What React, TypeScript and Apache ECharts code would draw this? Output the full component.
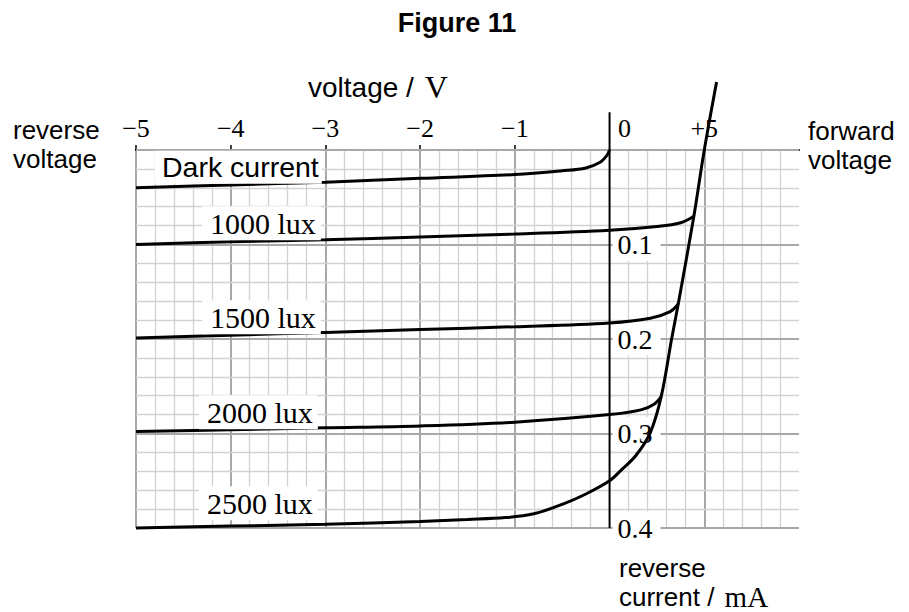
import React, { useEffect, useRef } from 'react';
import * as echarts from 'echarts';

// ---- data (voltage in V, reverse current in mA) ----
const darkV = [-5, -4, -3, -2, -1, -0.5, -0.25, -0.1, -0.03, 0];
const darkI = [0.040, 0.037, 0.034, 0.030, 0.026, 0.022, 0.019, 0.013, 0.006, 0];

const lux1000V = [-5, -4, -3, -2, -1, 0, 0.5, 0.75, 0.89];
const lux1000I = [0.100, 0.097, 0.095, 0.092, 0.089, 0.085, 0.081, 0.077, 0.070];

const lux1500V = [-5, -4, -3, -2, -1, 0, 0.43, 0.64, 0.725];
const lux1500I = [0.199, 0.196, 0.193, 0.190, 0.187, 0.183, 0.178, 0.171, 0.163];

const lux2000V = [-5, -4, -3, -2, -1, 0, 0.33, 0.47, 0.545];
const lux2000I = [0.298, 0.296, 0.294, 0.292, 0.288, 0.280, 0.275, 0.269, 0.261];

const lux2500V = [-5, -4, -3, -2, -1.5, -1.1, -0.8, -0.5, -0.25, 0, 0.12, 0.28, 0.43, 0.545, 0.655, 0.725, 0.89, 1.0, 1.13];
const lux2500I = [0.400, 0.398, 0.396, 0.393, 0.391, 0.389, 0.385, 0.375, 0.364, 0.350, 0.339, 0.323, 0.299, 0.261, 0.200, 0.163, 0.070, 0.0, -0.072];

const zeroLineV = [0, 0];
const zeroLineI = [-0.04, 0.4];

const xMin = -5;
const xMax = 2;
const xLabelValues = [-5, -4, -3, -2, -1, 0, 1];
const xLabelTexts = ['\u22125', '\u22124', '\u22123', '\u22122', '\u22121', '0', '+5'];
const xTickValues = [-5, -4, -3, -2, -1, 1];
const yLabelValues = [0.1, 0.2, 0.3, 0.4];
const yLabelTexts = ['0.1', '0.2', '0.3', '0.4'];

const SANS = 'Liberation Sans, Arial, sans-serif';
const SERIF = 'Liberation Serif, Times New Roman, serif';

const GRID_LEFT = 136;
const GRID_WIDTH = 663;

const pairs = (v: number[], i: number[]) => v.map((x, k) => [x, i[k]]);

const curve = (name: string, v: number[], i: number[]) => ({
  type: 'line',
  name,
  data: pairs(v, i),
  symbol: 'none',
  showSymbol: false,
  smooth: 0.35,
  clip: false,
  lineStyle: { color: '#000', width: 3 },
  z: 3,
});

const luxText = (text: string, x: number, y: number) => ({
  type: 'text',
  x,
  y,
  z: 10,
  style: {
    text,
    fontFamily: SERIF,
    fontSize: 30,
    fill: '#000',
    align: 'left',
    verticalAlign: 'middle',
    backgroundColor: '#fff',
    padding: [2, 5, 2, 8],
  },
});

export default function App() {
  const ref = useRef<HTMLDivElement>(null);

  useEffect(() => {
    if (!ref.current) return;
    const chart = echarts.init(ref.current, undefined, { renderer: 'svg' });
    const yAxisOffset = -GRID_WIDTH * (0 - xMin) / (xMax - xMin);
    const option: any = {
      animation: false,
      backgroundColor: '#fff',
      grid: { left: GRID_LEFT, width: GRID_WIDTH, top: 150, bottom: 84, containLabel: false, outerBoundsMode: 'none' },
      xAxis: {
        type: 'value',
        position: 'top',
        min: xMin,
        max: xMax,
        interval: 1,
        axisLine: { show: true, onZero: false, lineStyle: { color: '#000', width: 2 } },
        axisTick: { show: true, inside: false, length: 5, customValues: xTickValues, lineStyle: { color: '#000', width: 1.5 } },
        axisLabel: {
          customValues: xLabelValues,
          margin: 9,
          fontFamily: SERIF,
          fontSize: 26,
          color: '#000',
          formatter: (val: number) => {
            const k = xLabelValues.findIndex((x) => Math.abs(x - val) < 1e-9);
            const t = k >= 0 ? xLabelTexts[k] : '';
            return val === 0 ? '{z|' + t + '}' : t;
          },
          rich: { z: { fontFamily: SERIF, fontSize: 26, color: '#000', padding: [0, 0, 0, 30] } },
        },
        splitLine: { show: true, lineStyle: { color: '#a8a8a8', width: 2 } },
        minorTick: { show: false, splitNumber: 5 },
        minorSplitLine: { show: true, lineStyle: { color: '#d2d2d2', width: 1.3 } },
      },
      yAxis: {
        type: 'value',
        position: 'left',
        offset: yAxisOffset,
        inverse: true,
        min: 0,
        max: 0.4,
        interval: 0.1,
        z: 1,
        axisLine: { show: false },
        axisTick: { show: false },
        axisLabel: {
          customValues: yLabelValues,
          inside: true,
          margin: 3,
          fontFamily: SERIF,
          fontSize: 28,
          color: '#000',
          backgroundColor: '#fff',
          padding: [5, 8, 0, 5],
          formatter: (val: number) => {
            const k = yLabelValues.findIndex((x) => Math.abs(x - val) < 1e-9);
            return k >= 0 ? yLabelTexts[k] : '';
          },
        },
        splitLine: { show: true, lineStyle: { color: '#a8a8a8', width: 2 } },
        minorTick: { show: false, splitNumber: 5 },
        minorSplitLine: { show: true, lineStyle: { color: '#d2d2d2', width: 1.3 } },
      },
      series: [
        {
          type: 'line',
          name: 'zero',
          data: pairs(zeroLineV, zeroLineI),
          symbol: 'none',
          clip: false,
          lineStyle: { color: '#000', width: 2 },
          z: 2,
        },
        curve('Dark current', darkV, darkI),
        curve('1000 lux', lux1000V, lux1000I),
        curve('1500 lux', lux1500V, lux1500I),
        curve('2000 lux', lux2000V, lux2000I),
        curve('2500 lux', lux2500V, lux2500I),
      ],
      graphic: [
        {
          type: 'text',
          x: 457,
          y: 22.6,
          z: 10,
          style: { text: 'Figure 11', fontFamily: SANS, fontSize: 27, fontWeight: 'bold', fill: '#000', align: 'center', verticalAlign: 'middle' },
        },
        {
          type: 'text',
          x: 308,
          y: 87.3,
          z: 10,
          style: {
            text: '{a|voltage / }{b|V}',
            align: 'left',
            verticalAlign: 'middle',
            rich: {
              a: { fontFamily: SANS, fontSize: 28, fill: '#000' },
              b: { fontFamily: SERIF, fontSize: 32, fill: '#000', padding: [0, 0, 0, 3] },
            },
          },
        },
        {
          type: 'text',
          x: 13,
          y: 115.5,
          z: 10,
          style: { text: 'reverse\nvoltage', fontFamily: SANS, fontSize: 26, lineHeight: 29, fill: '#000', align: 'left', verticalAlign: 'top' },
        },
        {
          type: 'text',
          x: 808,
          y: 116.5,
          z: 10,
          style: { text: 'forward\nvoltage', fontFamily: SANS, fontSize: 26, lineHeight: 29, fill: '#000', align: 'left', verticalAlign: 'top' },
        },
        {
          type: 'text',
          x: 619,
          y: 553.5,
          z: 10,
          style: {
            text: '{a|reverse}\n{a|current / }{b|mA}',
            align: 'left',
            verticalAlign: 'top',
            rich: {
              a: { fontFamily: SANS, fontSize: 26, lineHeight: 29, fill: '#000' },
              b: { fontFamily: SERIF, fontSize: 29, lineHeight: 29, fill: '#000', padding: [0, 0, 0, 3] },
            },
          },
        },
        {
          type: 'text',
          x: 155,
          y: 167.3,
          z: 10,
          style: {
            text: 'Dark current',
            fontFamily: SANS,
            fontSize: 28.5,
            fill: '#000',
            align: 'left',
            verticalAlign: 'middle',
            backgroundColor: '#fff',
            padding: [2, 3, 2, 7],
          },
        },
        luxText('1000 lux', 202, 223.2),
        luxText('1500 lux', 202, 317.2),
        luxText('2000 lux', 199, 412.2),
        luxText('2500 lux', 199, 503.2),
      ],
    };
    chart.setOption(option);
    return () => chart.dispose();
  }, []);

  return (
    <div
      ref={ref}
      style={{ position: 'absolute', left: 0, top: 0, width: 909, height: 612, background: '#fff' }}
    />
  );
}
